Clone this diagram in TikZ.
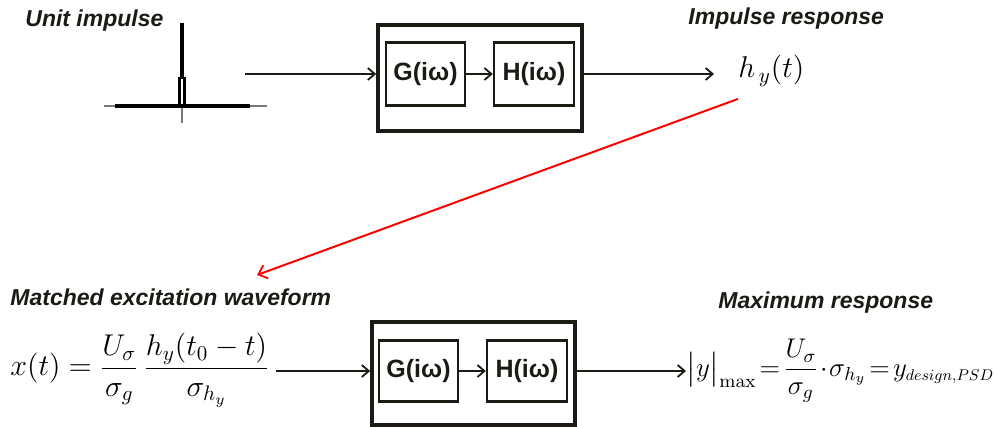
\RequirePackage{fix-cm}
\documentclass[tikz,border=0pt]{standalone}
\usepackage{amsmath}
\usepackage{graphicx}
\usepackage[no-math]{fontspec}
\setmainfont{Liberation Sans}
\usetikzlibrary{arrows.meta}
\definecolor{ink}{RGB}{28,26,20}
\definecolor{axisgray}{RGB}{120,120,120}
\begin{document}
\begin{tikzpicture}[x=0.5pt,y=-0.5pt,
  lab/.style={font=\fontsize{11.5}{13}\selectfont\bfseries\itshape, text=ink, inner sep=0pt},
  blk/.style={draw=ink, line width=1.2pt, font=\fontsize{12.5}{14}\selectfont\bfseries, text=ink, inner sep=0pt},
  outerbox/.style={draw=ink, line width=1.8pt, inner sep=0pt},
  mth/.style={font=\fontsize{15}{18}\selectfont, inner sep=0pt},
  arr/.style={draw=ink, line width=1pt, -{Straight Barb[length=3.5pt,width=6pt,line width=0.9pt]}},
  redarr/.style={draw=red, line width=1pt, -{Straight Barb[length=4pt,width=7pt,line width=0.9pt]}}]
\useasboundingbox (0,0) rectangle (995,427);

% labels
\node[lab, anchor=base west] (lu) at (25,27) {Unit impulse};
\node[lab, anchor=base west] (lir) at (688,25) {Impulse response};
\node[lab, anchor=base west] (lme) at (10,305) {Matched excitation waveform};
\node[lab, anchor=base west] (lmr) at (718,308) {Maximum response};

% unit impulse sketch
\draw[axisgray, line width=0.7pt] (104,106) -- (267,106);
\draw[axisgray, line width=0.7pt] (182,106) -- (182,123);
\draw[black, line width=1.6pt] (115,106) -- (250,106);
\draw[black, line width=1.8pt] (182,23) -- (182,52);
\draw[black, line width=2.4pt] (182,52) -- (182,78);
\draw[black, line width=1.1pt] (179.5,106) -- (179.5,78) -- (184.5,78) -- (184.5,106);

% top system
\node[outerbox, minimum width=102pt, minimum height=53pt] (o1) at (480,78) {};
\node[blk, minimum width=39.5pt, minimum height=31.5pt] (g1) at (425.5,74) {G(iω)};
\node[blk, minimum width=40pt, minimum height=31.5pt] (h1) at (534,74) {H(iω)};
\coordinate (in1) at (245,74);
\node[mth, anchor=west] (hy) at (738,71) {$h_{\,y}(t)$};
\draw[arr] (in1) -- (in1 -| o1.west);
\draw[arr] (g1.east) -- (h1.west);
\draw[arr] (g1.center -| o1.east) -- ([xshift=-12pt]g1.center -| hy.west);

% red arrow
\coordinate (rt) at (257,275);
\draw[redarr] ([yshift=-6pt]hy.south west) -- (rt);

% bottom system
\node[mth, anchor=west] (xf) at (10,370) {$\displaystyle x(t)=\frac{U_\sigma}{\sigma_g}\,\frac{h_y(t_0-t)}{\sigma_{h_y}}$};
\node[outerbox, minimum width=101.5pt, minimum height=51.5pt] (o2) at (473.5,373.5) {};
\node[blk, minimum width=39.5pt, minimum height=30.5pt] (g2) at (418.5,371) {G(iω)};
\node[blk, minimum width=40pt, minimum height=30.5pt] (h2) at (527,371) {H(iω)};
\node[mth, anchor=west, font=\fontsize{13.5}{16}\selectfont] (yf) at (686,371) {$\displaystyle \bigl|y\bigr|_{\max}\mkern-3mu=\mkern-3mu\frac{U_\sigma}{\sigma_g}\mkern-3mu\cdot\mkern-3mu\sigma_{h_y}\mkern-3mu=\mkern-3mu y_{\scalebox{0.82}{$\scriptstyle design{,}PSD$}}$};
\draw[arr] ([xshift=3pt]g2.center -| xf.east) -- (g2.center -| o2.west);
\draw[arr] (g2.east) -- (h2.west);
\draw[arr] (g2.center -| o2.east) -- (g2.center -| yf.west);
\end{tikzpicture}
\end{document}
